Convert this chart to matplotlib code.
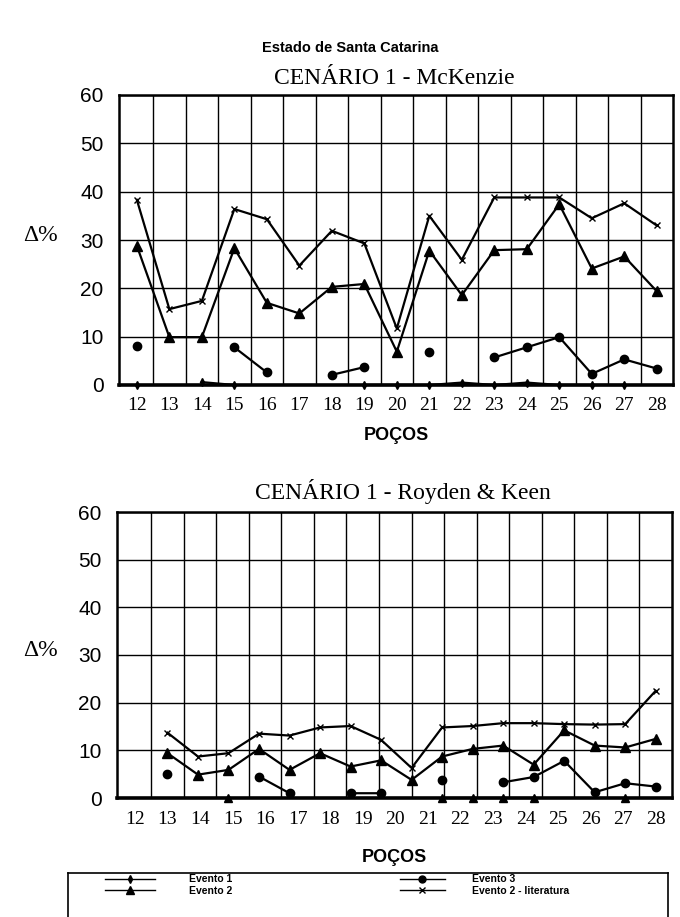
import matplotlib
matplotlib.use('Agg')
import matplotlib.pyplot as plt
from matplotlib.lines import Line2D
import numpy as np

nan = np.nan

# poços (wells)
wells = list(range(12, 29))

# CENÁRIO 1 - McKenzie
mck_ev1 = [0, nan, 0.6, 0, nan, nan, nan, 0, 0, 0, 0.5, 0, 0.5, 0, 0, 0, nan]
mck_ev2 = [28.8, 9.9, 9.9, 28.3, 17.0, 14.8, 20.3, 20.9, 6.9, 27.8, 18.6, 27.9, 28.1, 37.4, 24.1, 26.6, 19.4]
mck_ev3 = [8.1, nan, nan, 7.8, 2.6, nan, 2.1, 3.7, nan, 6.8, nan, 5.7, 7.8, 9.9, 2.3, 5.3, 3.4]
mck_lit = [38.3, 15.7, 17.4, 36.4, 34.3, 24.7, 31.9, 29.3, 11.7, 35.0, 25.9, 38.8, 38.8, 38.8, 34.5, 37.6, 33.0]

# CENÁRIO 1 - Royden & Keen (17 poços, desenhados entre 13 e 28 como no original)
rk_ev1 = [nan, nan, 0, nan, nan, nan, nan, nan, nan, 0, 0, 0, 0, nan, nan, 0, nan]
rk_ev2 = [9.4, 4.9, 5.9, 10.3, 5.9, 9.4, 6.6, 7.9, 3.8, 8.7, 10.3, 11.0, 7.0, 14.2, 11.0, 10.6, 12.4]
rk_ev3 = [5.1, nan, nan, 4.5, 1.0, nan, 1.0, 1.0, nan, 3.7, nan, 3.3, 4.4, 7.8, 1.2, 3.1, 2.4]
rk_lit = [13.7, 8.7, 9.4, 13.5, 13.1, 14.8, 15.1, 12.2, 6.3, 14.8, 15.1, 15.7, 15.7, 15.5, 15.4, 15.5, 22.5]

labels = ['Evento 1', 'Evento 2', 'Evento 3', 'Evento 2 - literatura']
yticks = [0, 10, 20, 30, 40, 50, 60]

W, H = 680, 917
SERIF = 'Liberation Serif'
SANS = 'Liberation Sans'


def fx(px):
    return px / W


def fy(py):
    return 1 - py / H


def panel(left, top, right, bottom, x, ev1, ev2, ev3, lit, ev1_marker, title, title_x, title_y, xlab_y):
    ax = fig.add_axes([fx(left), fy(bottom), fx(right - left), (bottom - top) / H])
    kw = dict(color='black', lw=1.6, clip_on=False, zorder=3)
    ax.plot(x, ev1, marker=ev1_marker, ms=4 if ev1_marker == 'd' else 6, **kw)
    ax.plot(x, ev2, marker='^', ms=7, **kw)
    ax.plot(x, ev3, marker='o', ms=6, **kw)
    ax.plot(x, lit, marker='x', ms=5, mew=1.0, **kw)

    ax.set_xlim(11.45, 28.5)
    ax.set_ylim(0, 60)
    ax.set_xticks(wells)
    ax.set_xticklabels([str(w) for w in wells], fontfamily=SERIF, fontsize=14)
    ax.set_xticks(np.arange(12.5, 28, 1), minor=True)
    ax.set_yticks(yticks)
    ax.set_yticklabels([str(v) for v in yticks], fontfamily=SANS, fontsize=15)
    ax.tick_params(axis='x', which='both', length=0, pad=9)
    ax.tick_params(axis='y', length=0, pad=11)
    ax.grid(True, axis='x', which='minor', color='black', lw=1.0)
    ax.grid(True, axis='y', which='major', color='black', lw=1.0)
    for s in ax.spines.values():
        s.set_linewidth(1.8)
    ax.spines['bottom'].set_linewidth(2.6)

    fig.text(fx(title_x), fy(title_y), title, fontfamily=SERIF,
             fontsize=17, ha='center', va='center')
    fig.text(fx((left + right) / 2), fy(xlab_y), 'POÇOS', fontfamily=SANS,
             fontweight='bold', fontsize=13, ha='center', va='center')
    fig.text(fx(40), fy(top + (60 - 31) * (bottom - top) / 60), 'Δ%',
             fontfamily=SERIF, fontsize=17, ha='center', va='center')
    return ax


fig = plt.figure(figsize=(6.8, 9.17), dpi=100)

fig.text(fx(350), fy(48), 'Estado de Santa Catarina', fontfamily=SANS,
         fontweight='bold', fontsize=10.5, ha='center', va='center')

panel(119, 95, 673, 385, wells, mck_ev1, mck_ev2, mck_ev3, mck_lit, 'd',
      'CENÁRIO 1 - McKenzie', 394, 78, 436)

rk_x = np.linspace(13, 28, len(rk_lit))
panel(117, 512, 672, 798, rk_x, rk_ev1, rk_ev2, rk_ev3, rk_lit, '^',
      'CENÁRIO 1 - Royden & Keen', 403, 492, 858)

# caixa da legenda (cortada na borda inferior, como no original)
leg_ax = fig.add_axes([fx(68), fy(935), fx(600), (935 - 873) / H])
leg_ax.set_xticks([])
leg_ax.set_yticks([])
for s in leg_ax.spines.values():
    s.set_linewidth(1.2)

handles = [
    Line2D([], [], color='black', lw=1.0, marker='d', ms=4),
    Line2D([], [], color='black', lw=1.0, marker='^', ms=6),
    Line2D([], [], color='black', lw=1.0, marker='o', ms=5),
    Line2D([], [], color='black', lw=1.0, marker='x', ms=5),
]
prop = {'family': SANS, 'weight': 'bold', 'size': 7.5}
leg_kw = dict(loc='upper left', frameon=False, borderpad=0, borderaxespad=0,
              labelspacing=0.1, prop=prop)
top_frac = 1 - 1.5 / 62
leg1 = leg_ax.legend(handles[:2], labels[:2], bbox_to_anchor=((105 - 68) / 600, top_frac),
                     handlelength=4.8, handletextpad=3.3, **leg_kw)
leg_ax.add_artist(leg1)
leg_ax.legend(handles[2:], labels[2:], bbox_to_anchor=((400 - 68) / 600, top_frac),
              handlelength=4.3, handletextpad=2.6, **leg_kw)

fig.savefig('out.png', dpi=100)
